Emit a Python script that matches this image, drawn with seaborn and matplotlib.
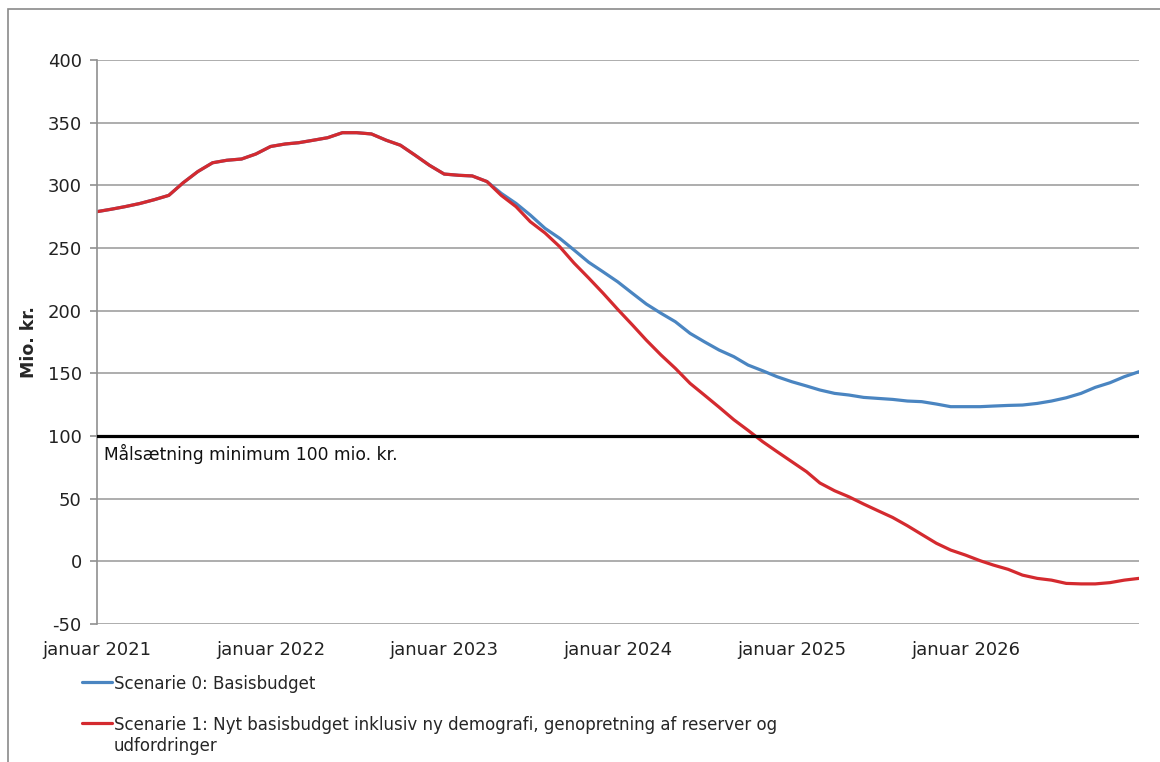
import matplotlib
matplotlib.use("Agg")
import matplotlib.pyplot as plt
from matplotlib.patches import Rectangle
import seaborn as sns
import pandas as pd

# Monthly values, Jan 2021 .. Jan 2027 (mio. kr.)
months = pd.date_range("2021-01-01", periods=73, freq="MS")

scenarie_1 = [
    279, 281, 283, 285.5, 288.5, 292, 302, 311, 318, 320, 321, 325,
    331, 333, 334, 336, 338, 342, 342, 341, 336, 332, 324, 316,
    309, 308, 307.5, 303, 292, 283, 271, 262, 251, 238, 226, 214,
    201, 188.5, 176.5, 164.6, 154, 142, 132.7, 123, 113, 104.5, 95.4, 87.5,
    79.5, 71.5, 62.5, 56.3, 51.5, 45.7, 40.4, 35, 28.4, 21.5, 14.4, 9,
    5, 0.5, -3, -6.4, -11, -13.6, -15, -17.6, -18, -18, -17, -15,
    -13.6,
]
scenarie_0 = scenarie_1[:27] + [
    303, 293.6, 285.6, 276.3, 265.7, 257.7, 248.4, 238.6, 231,
    223, 213.8, 205.3, 197.9, 191.2, 181.9, 175.2, 168.6, 163.3, 156.6, 152, 147.3,
    143.3, 139.9, 136.7, 134, 132.7, 130.8, 130, 129.2, 127.9, 127.4, 125.5, 123.4,
    123.4, 123.4, 123.9, 124.4, 124.7, 126, 127.9, 130.5, 134, 138.8, 142.5, 147.3,
    151.3,
]

label_0 = "Scenarie 0: Basisbudget"
label_1 = ("Scenarie 1: Nyt basisbudget inklusiv ny demografi, genopretning af reserver og\n"
           "udfordringer")
target = 100
target_text = "Målsætning minimum 100 mio. kr."
year_ticks = [2021, 2022, 2023, 2024, 2025, 2026]

df = pd.concat([
    pd.DataFrame({"dato": months, "mio": scenarie_0, "scenarie": label_0}),
    pd.DataFrame({"dato": months, "mio": scenarie_1, "scenarie": label_1}),
])

sns.set_style("white")
plt.rcParams["font.family"] = ["DejaVu Sans"]
plt.rcParams["axes.unicode_minus"] = False

fig = plt.figure(figsize=(11.6, 7.62), dpi=100)
ax = fig.add_axes([97 / 1160, 1 - 624 / 762, (1139 - 97) / 1160, (624 - 60) / 762])

sns.lineplot(data=df, x="dato", y="mio", hue="scenarie",
             palette={label_0: "#4a85c1", label_1: "#d42a2f"},
             linewidth=2.3, ax=ax, legend=False)

ax.axhline(target, color="black", lw=2.3, zorder=3)
ax.text(pd.Timestamp("2021-01-15"), target - 6, target_text,
        fontsize=12.3, va="top", ha="left", color="#111111")

ax.set_ylim(-50, 400)
ax.set_yticks(range(-50, 401, 50))
ax.set_xlim(months[0], months[-1])
ticks = [pd.Timestamp(f"{y}-01-01") for y in year_ticks]
ax.set_xticks(ticks)
ax.set_xticklabels([f"januar {y}" for y in year_ticks])

ax.grid(axis="y", color="#a0a0a0", lw=1.2)
ax.grid(axis="x", visible=False)
for s in ["top", "right", "bottom"]:
    ax.spines[s].set_visible(False)
ax.spines["left"].set_color("#909090")
ax.spines["left"].set_linewidth(1.2)
ax.tick_params(axis="y", length=5, width=1.2, color="#909090", labelsize=13,
               labelcolor="#222222", pad=6, left=True)
ax.tick_params(axis="x", length=0, labelsize=13, labelcolor="#222222", pad=12)
ax.set_xlabel("")
ax.set_ylabel("Mio. kr.", fontsize=12.5, fontweight="bold", labelpad=7)

handles = [plt.Line2D([], [], color="#4a85c1", lw=2.3),
           plt.Line2D([], [], color="#d42a2f", lw=2.3)]
leg = fig.legend(handles, [label_0, label_1], loc="upper left",
                 bbox_to_anchor=(82 / 1160, 1 - 675 / 762), frameon=False,
                 fontsize=12, handlelength=1.8, handletextpad=0.1,
                 handleheight=1.0, labelspacing=1.4, borderaxespad=0,
                 borderpad=0)
# put each handle level with the first line of its label
for column in leg._legend_handle_box.get_children():
    for row in column.get_children():
        row.align = "top"

fig.add_artist(Rectangle((8 / 1160, -0.1), 1.2, 1.1 - 9 / 762,
                         transform=fig.transFigure, fill=False,
                         edgecolor="#8a8a8a", lw=1.2))

fig.savefig("out.png", dpi=100)
